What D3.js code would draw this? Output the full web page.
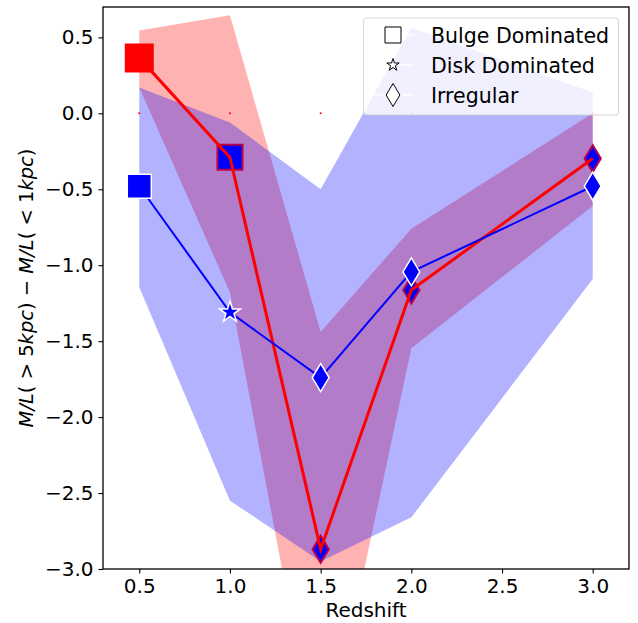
<!DOCTYPE html>
<html><head><meta charset="utf-8">
<script src="https://cdn.jsdelivr.net/npm/d3@7"></script>
<style>body{margin:0;background:#fff}svg{display:block;font-family:"DejaVu Sans",sans-serif}</style>
</head><body><svg id="c" width="638" height="623"></svg>
<script>
const redshift = [0.5, 1.0, 1.5, 2.0, 3.0];
const redMean  = [0.365, -0.29, -2.87, -1.163, -0.298];
const redUpper = [0.546, 0.645, -1.44, -0.76, 0.0];
const redLower = [0.17, -1.18, -4.35, -1.546, -0.61];
const blueMean  = [-0.48, -1.31, -1.74, -1.044, -0.48];
const blueUpper = [0.17, -0.06, -0.50, 0.564, 0.137];
const blueLower = [-1.145, -2.55, -2.95, -2.66, -1.09];
const redMarkers  = ["square", "square", "diamond", "diamond", "diamond"];
const blueMarkers = ["square", "star", "diamond", "diamond", "diamond"];
const xTicks = [0.5, 1.0, 1.5, 2.0, 2.5, 3.0];
const yTicks = [0.5, 0.0, -0.5, -1.0, -1.5, -2.0, -2.5, -3.0];
const legendLabels = ["Bulge Dominated", "Disk Dominated", "Irregular"];
const legendMarkers = ["square", "star", "diamond"];

const L = 103, R = 629, T = 7, B = 569;
const svg = d3.select("#c");
const x = d3.scaleLinear().domain([0.3, 3.2]).range([L, R]);
const y = d3.scaleLinear().domain([-3.0, 0.7]).range([B, T]);

svg.append("defs").append("clipPath").attr("id", "clip")
  .append("rect").attr("x", L).attr("y", T).attr("width", R - L).attr("height", B - T);
const g = svg.append("g").attr("clip-path", "url(#clip)");

function bandPath(up, lo) {
  return d3.area().x((d, i) => x(redshift[i])).y0((d, i) => y(lo[i])).y1((d, i) => y(up[i]))(redshift);
}
g.append("path").attr("d", bandPath(redUpper, redLower)).attr("fill", "red").attr("fill-opacity", 0.3);
g.append("path").attr("d", bandPath(blueUpper, blueLower)).attr("fill", "blue").attr("fill-opacity", 0.3);

// small points at zero
g.selectAll(".zero").data(redshift).join("circle")
  .attr("cx", d => x(d)).attr("cy", y(0)).attr("r", 1).attr("fill", "red");

function markerPath(type, s) {
  if (type === "square") { const h = s / 2; return `M${-h},${-h}H${h}V${h}H${-h}Z`; }
  if (type === "diamond") { const w = s * 0.6 / 2, h = s / 2; return `M0,${-h}L${w},0L0,${h}L${-w},0Z`; }
  if (type === "star") {
    const Ro = s / 2, ri = Ro * 0.381966; let p = "";
    for (let k = 0; k < 10; k++) {
      const r = k % 2 ? ri : Ro, a = -Math.PI / 2 + k * Math.PI / 5;
      p += (k ? "L" : "M") + (r * Math.cos(a)).toFixed(2) + "," + (r * Math.sin(a)).toFixed(2);
    }
    return p + "Z";
  }
}
const line = d3.line().x((d, i) => x(redshift[i]));

// red series markers
const redSizes = {square: 25, diamond: 27};
redshift.forEach((d, i) => {
  const first = i === 0;
  g.append("path").attr("d", markerPath(redMarkers[i], first ? 27 : redSizes[redMarkers[i]]))
    .attr("transform", `translate(${x(d)},${y(redMean[i])})`)
    .attr("fill", first ? "red" : "blue")
    .attr("stroke", first ? "red" : "#b8004a").attr("stroke-width", 2).attr("stroke-linejoin", "miter");
});
g.append("path").attr("d", line.y((d, i) => y(redMean[i]))(redshift))
  .attr("fill", "none").attr("stroke", "red").attr("stroke-width", 3);

// blue series
g.append("path").attr("d", line.y((d, i) => y(blueMean[i]))(redshift))
  .attr("fill", "none").attr("stroke", "blue").attr("stroke-width", 2);
const blueSizes = {square: 24, star: 22, diamond: 28};
redshift.forEach((d, i) => {
  g.append("path").attr("d", markerPath(blueMarkers[i], blueSizes[blueMarkers[i]]))
    .attr("transform", `translate(${x(d)},${y(blueMean[i])})`)
    .attr("fill", "blue").attr("stroke", "white").attr("stroke-width", 1.5);
});

// frame
svg.append("rect").attr("x", L).attr("y", T).attr("width", R - L).attr("height", B - T)
  .attr("fill", "none").attr("stroke", "black").attr("stroke-width", 1.3);

// axes
const fmt = v => (v < 0 ? "\u2212" : "") + Math.abs(v).toFixed(1);
const xa = svg.append("g").attr("transform", `translate(0,${B})`)
  .call(d3.axisBottom(x).tickValues(xTicks).tickFormat(fmt).tickSize(4.5).tickPadding(5));
const ya = svg.append("g").attr("transform", `translate(${L},0)`)
  .call(d3.axisLeft(y).tickValues(yTicks).tickFormat(fmt).tickSize(4.5).tickPadding(5));
[xa, ya].forEach(a => {
  a.select(".domain").remove();
  a.selectAll("line").attr("stroke", "black").attr("stroke-width", 1.1);
  a.selectAll("text").attr("fill", "black").attr("font-size", 20).attr("font-family", "DejaVu Sans");
});

svg.append("text").attr("x", (L + R) / 2).attr("y", 617).attr("text-anchor", "middle")
  .attr("font-size", 20).text("Redshift");

const yl = svg.append("text").attr("transform", `translate(33,${(T + B) / 2}) rotate(-90)`)
  .attr("text-anchor", "middle").attr("font-size", 19.5);
const parts = [["M/L", 1], ["(", 0], [" > ", 0], ["5", 0], ["kpc", 1], [")", 0], [" \u2212 ", 0],
               ["M/L", 1], ["(", 0], [" < ", 0], ["1", 0], ["kpc", 1], [")", 0]];
parts.forEach(([t, it]) => yl.append("tspan").attr("font-style", it ? "italic" : "normal")
  .style("white-space", "pre").text(t));

// legend
const lg = svg.append("g");
lg.append("rect").attr("x", 363.5).attr("y", 18).attr("width", 255).attr("height", 97).attr("rx", 3)
  .attr("fill", "white").attr("fill-opacity", 0.8).attr("stroke", "#cccccc").attr("stroke-opacity", 0.8);
const legSizes = {square: 16, star: 13, diamond: 23};
legendLabels.forEach((lab, i) => {
  const cy = 35 + i * 30;
  lg.append("line").attr("x1", 371).attr("x2", 414).attr("y1", cy).attr("y2", cy)
    .attr("stroke", "white").attr("stroke-width", 1.5);
  lg.append("path").attr("d", markerPath(legendMarkers[i], legSizes[legendMarkers[i]]))
    .attr("transform", `translate(393,${cy})`).attr("fill", "white").attr("stroke", "black").attr("stroke-width", 1);
  lg.append("text").attr("x", 431).attr("y", cy + 7.5).attr("font-size", 20.5).text(lab);
});
</script></body></html>
